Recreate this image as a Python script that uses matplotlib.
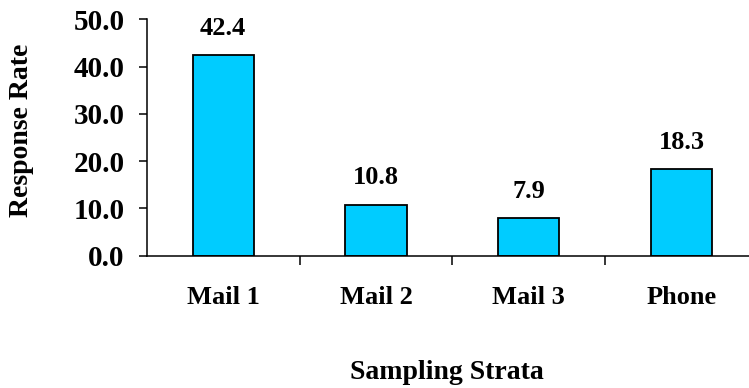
import matplotlib
matplotlib.use('Agg')
import matplotlib.pyplot as plt
from matplotlib.ticker import FormatStrFormatter, FixedLocator

strata = ['Mail 1', 'Mail 2', 'Mail 3', 'Phone']
response_rate = [42.4, 10.8, 7.9, 18.3]
y_ticks = [0, 10, 20, 30, 40, 50]

plt.rcParams['font.family'] = ['Liberation Serif', 'DejaVu Serif']
plt.rcParams['font.weight'] = 'bold'

fig = plt.figure(figsize=(7.49, 3.88), dpi=100)
ax = fig.add_axes([0.196, 0.341, 0.816, 0.609])

x = list(range(len(strata)))
bars = ax.bar(x, response_rate, width=0.4, color='#00CCFF', edgecolor='black', linewidth=1.3)

# etykiety wartosci nad slupkami
for xi, v in zip(x, response_rate):
    ax.annotate(f'{v:.1f}', (xi, v), xytext=(0, 19.5), textcoords='offset points',
                ha='center', va='center', fontsize=19, fontweight='bold')

ax.set_xlim(-0.5, len(strata) - 0.5)
ax.set_ylim(0, 50)
ax.set_yticks(y_ticks)
ax.yaxis.set_major_formatter(FormatStrFormatter('%.1f'))
ax.set_xticks(x)
ax.set_xticklabels(strata)
ax.xaxis.set_minor_locator(FixedLocator([i + 0.5 for i in x[:-1]]))

ax.tick_params(axis='y', direction='out', length=6, width=1.1, pad=10, labelsize=21)
ax.tick_params(axis='x', which='major', length=0, pad=22, labelsize=19)
ax.tick_params(axis='x', which='minor', direction='out', length=6.5, width=1.1)

for s in ['top', 'right']:
    ax.spines[s].set_visible(False)
for s in ['left', 'bottom']:
    ax.spines[s].set_linewidth(1.1)

ax.set_ylabel('Response Rate', fontsize=20, fontweight='bold', va='center')
ax.yaxis.set_label_coords(-0.205, 0.532)
ax.set_xlabel('Sampling Strata', fontsize=20, fontweight='bold', va='center')
ax.xaxis.set_label_coords(0.491, -0.496)

fig.savefig('out.png', dpi=100)
